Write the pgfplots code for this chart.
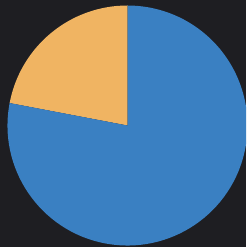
\documentclass[border=0pt]{standalone}
\usepackage{pgfplots}
\usepackage{pgfplotstable}
\pgfplotsset{compat=1.18}
\definecolor{bg}{HTML}{1E1E22}
\definecolor{pieblue}{HTML}{3A80C2}
\definecolor{pieorange}{HTML}{F0B462}
\pgfplotstableread{
label value
B 22
A 78
}\piedata
\begin{document}
\begin{tikzpicture}
\begin{axis}[scale only axis, width=6cm, height=6.0244cm,
  xmin=0, xmax=246, ymin=0, ymax=247, hide axis, clip=true]
\fill[bg] (axis cs:0,0) rectangle (axis cs:246,247);
\addplot[draw=none, mark=none] coordinates {(127.5,121.5)};
\pgfplotsextra{%
  \pgfplotstablegetelem{0}{value}\of\piedata \let\va\pgfplotsretval
  \pgfmathsetmacro\aend{90+3.6*\va}
  \fill[pieorange, overlay] (axis cs:127.5,121.5) -- ++(90:2.927cm) arc[start angle=90, end angle=\aend, radius=2.927cm] -- cycle;
  \fill[pieblue, overlay] (axis cs:127.5,121.5) -- ++(\aend:2.927cm) arc[start angle=\aend, end angle=450, radius=2.927cm] -- cycle;
}
\end{axis}
\end{tikzpicture}
\end{document}
